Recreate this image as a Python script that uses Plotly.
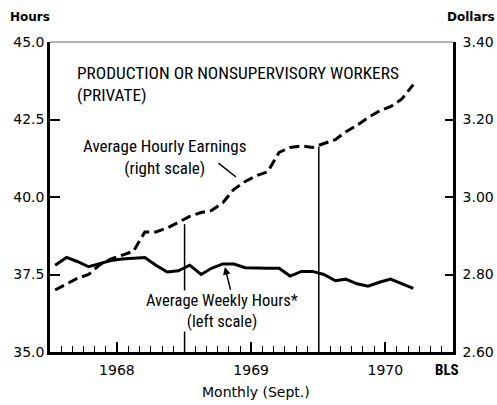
import plotly.graph_objs as go
import pandas as pd

# Monthly observations, Jan 1968 - Sept 1970 (plotted mid-month)
months = pd.date_range("1968-01-01", "1970-09-01", freq="MS") + pd.Timedelta(days=14)

# Average weekly hours (left scale)
weekly_hours = [
    37.80, 38.05, 37.92, 37.75, 37.85, 37.95, 38.00, 38.03, 38.05, 37.80, 37.58, 37.62,
    37.80, 37.50, 37.70, 37.84, 37.84, 37.72, 37.70, 37.70, 37.70, 37.45, 37.60, 37.60,
    37.50, 37.30, 37.35, 37.20, 37.12, 37.25, 37.35, 37.20, 37.05,
]

# Average hourly earnings, dollars (right scale)
hourly_earnings = [
    2.760, 2.775, 2.790, 2.800, 2.825, 2.840, 2.850, 2.860, 2.910, 2.910, 2.920, 2.935,
    2.950, 2.960, 2.965, 2.985, 3.020, 3.040, 3.055, 3.065, 3.115, 3.128, 3.132, 3.128,
    3.138, 3.148, 3.168, 3.185, 3.205, 3.222, 3.233, 3.253, 3.290,
]

year_ticks = ["1968-07-01", "1969-07-01", "1970-07-01"]
year_labels = ["1968", "1969", "1970"]
hours_ticks = [35.0, 37.5, 40.0, 42.5, 45.0]
dollar_ticks = [2.60, 2.80, 3.00, 3.20, 3.40]

# year boundary markers: (date, earnings value where the marker stops)
markers = [("1969-01-01", 2.93), ("1970-01-01", 3.13)]

num_font = "DejaVu Sans"
narrow_font = "Liberation Sans Narrow, Roboto Condensed, Arial Narrow, sans-serif"

fig = go.Figure()

fig.add_trace(
    go.Scatter(
        x=months,
        y=weekly_hours,
        mode="lines",
        line=dict(color="black", width=3),
        yaxis="y",
        showlegend=False,
        hoverinfo="skip",
    )
)

fig.add_trace(
    go.Scatter(
        x=months,
        y=hourly_earnings,
        mode="lines",
        line=dict(color="black", width=3, dash="10px,5px"),
        yaxis="y2",
        showlegend=False,
        hoverinfo="skip",
    )
)

for date, top in markers:
    fig.add_shape(
        type="line",
        xref="x",
        yref="y2",
        x0=date,
        x1=date,
        y0=2.60,
        y1=top,
        line=dict(color="black", width=1.5),
    )

# faint top border
fig.add_shape(
    type="line",
    xref="paper",
    yref="paper",
    x0=0,
    x1=1,
    y0=1,
    y1=1,
    line=dict(color="#666666", width=1),
)

annotations = [
    dict(
        text="PRODUCTION OR NONSUPERVISORY WORKERS<br>(PRIVATE)",
        x=0.062, y=0.94, xanchor="left", yanchor="top", align="left",
        font=dict(family=narrow_font, size=17.3, color="black"),
    ),
    dict(
        text="Average Hourly Earnings<br>(right scale)",
        x=0.285, y=0.629, xanchor="center", yanchor="middle", align="center",
        font=dict(family=narrow_font, size=17, color="black"),
    ),
    dict(
        text="Average Weekly Hours*<br>(left scale)",
        x=0.427, y=0.132, xanchor="center", yanchor="middle", align="center",
        bgcolor="white", borderpad=0,
        font=dict(family=narrow_font, size=16.5, color="black"),
    ),
    dict(
        text="Hours", x=-0.104, y=1.08, xanchor="left", yanchor="middle",
        font=dict(family=num_font, size=12, color="black", weight="bold"),
    ),
    dict(
        text="Dollars", x=1.109, y=1.08, xanchor="right", yanchor="middle",
        font=dict(family=num_font, size=12, color="black", weight="bold"),
    ),
    dict(
        text="BLS", x=0.985, y=-0.058, xanchor="center", yanchor="middle",
        font=dict(family=narrow_font, size=15, color="black", weight="bold"),
    ),
    dict(
        text="Monthly (Sept.)", x=0.51, y=-0.13, xanchor="center", yanchor="middle",
        font=dict(family=num_font, size=14, color="black"),
    ),
]
for a in annotations:
    fig.add_annotation(xref="paper", yref="paper", showarrow=False, **a)

# pointer arrows from labels to the curves
fig.add_annotation(
    xref="paper", yref="paper", x=0.4615, y=0.5645, ax=-19, ay=-15,
    text="", showarrow=True, arrowhead=0, arrowwidth=1.5, arrowcolor="black",
)
fig.add_annotation(
    xref="paper", yref="paper", x=0.434, y=0.274, ax=6, ay=24,
    text="", showarrow=True, arrowhead=2, arrowsize=1, arrowwidth=1.5, arrowcolor="black",
)

fig.update_layout(
    width=497,
    height=405,
    margin=dict(l=50, r=44, t=42, b=53, autoexpand=False),
    plot_bgcolor="white",
    paper_bgcolor="white",
    xaxis=dict(
        type="date",
        range=["1968-01-01", "1971-01-01"],
        tickmode="array",
        tickvals=year_ticks,
        ticktext=year_labels,
        ticks="inside",
        ticklen=10,
        tickwidth=1.5,
        tickcolor="black",
        ticklabelstandoff=3,
        minor=dict(
            tickmode="linear",
            tick0="1968-01-01",
            dtick="M1",
            ticks="inside",
            ticklen=6,
            tickwidth=1.2,
            tickcolor="black",
        ),
        showline=True,
        linecolor="black",
        linewidth=3,
        showgrid=False,
        zeroline=False,
        automargin=False,
        tickfont=dict(family=num_font, size=14, color="black"),
        fixedrange=True,
    ),
    yaxis=dict(
        range=[35, 45],
        tickvals=hours_ticks,
        tickformat=".1f",
        ticks="inside",
        ticklen=10,
        tickwidth=1.5,
        tickcolor="black",
        showline=True,
        linecolor="black",
        linewidth=2.5,
        showgrid=False,
        zeroline=False,
        automargin=False,
        tickfont=dict(family=num_font, size=14, color="black"),
        fixedrange=True,
    ),
    yaxis2=dict(
        range=[2.6, 3.4],
        tickvals=dollar_ticks,
        tickformat=".2f",
        overlaying="y",
        side="right",
        ticks="inside",
        ticklen=8,
        tickwidth=1.5,
        tickcolor="black",
        ticklabelstandoff=4,
        showline=True,
        linecolor="black",
        linewidth=2.5,
        showgrid=False,
        zeroline=False,
        automargin=False,
        tickfont=dict(family=num_font, size=14, color="black"),
        fixedrange=True,
    ),
)

# drop the default page margin so the chart sits at the window's corner
fig.write_html(
    "out.html",
    config={"displayModeBar": False},
    post_script="document.body.style.margin='0';document.body.style.overflow='hidden';",
)
